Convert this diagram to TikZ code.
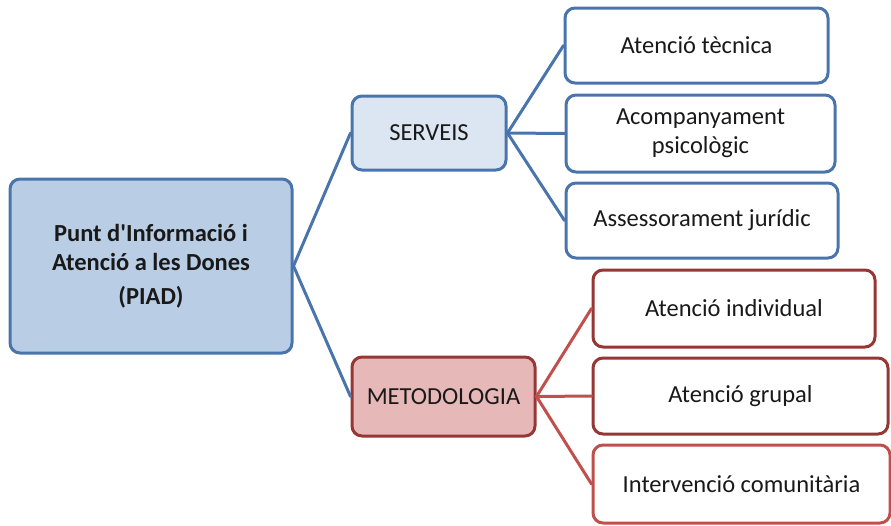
\documentclass[tikz,border=0pt]{standalone}
\usepackage{fontspec}
\setmainfont{Carlito}[Ligatures=TeXOff]
\definecolor{blueline}{RGB}{74,117,172}
\definecolor{bluefill}{RGB}{185,205,229}
\definecolor{paleblue}{RGB}{220,230,242}
\definecolor{darkred}{RGB}{150,55,53}
\definecolor{redline}{RGB}{192,80,77}
\definecolor{redfill}{RGB}{230,185,184}
\tikzset{
	box/.style={draw, line width=3pt, rounded corners=10pt, align=center, text=black!90,
		font=\fontsize{24.5}{29}\selectfont, inner sep=0pt},
	bluebox/.style={box, draw=blueline, fill=white},
	redbox/.style={box, draw=darkred, fill=white},
	link/.style={line width=3pt, line cap=round}
}

\begin{document}
\begin{tikzpicture}[x=1pt, y=-1pt]
	\useasboundingbox (0,0) rectangle (891,525);

	\node [box, draw=blueline, fill=bluefill, minimum width=282pt, minimum height=174pt,
		font=\fontsize{24.5}{29}\selectfont\bfseries] (PIAD) at (151,266)
		{Punt d'Informació i\\Atenció a les Dones\\[5pt](PIAD)};

	\node [bluebox, fill=paleblue, minimum width=154pt, minimum height=74pt] (S) at (429,133) {SERVEIS};
	\node [redbox, fill=redfill, minimum width=183pt, minimum height=79pt] (M) at (443.5,396.5) {METODOLOGIA};

	\node [bluebox, minimum width=263pt, minimum height=75pt] (S1) at (696.5,45.5) {Atenció tècnica};
	\node [bluebox, minimum width=269pt, minimum height=77pt] (S2) at (700.5,133.5) {Acompanyament\\psicològic};
	\node [bluebox, minimum width=272pt, minimum height=75pt] (S3) at (702,220.5) {Assessorament jurídic};

	\node [redbox, minimum width=282pt, minimum height=77pt] (M1) at (734,308.5) {Atenció individual};
	\node [redbox, minimum width=295pt, minimum height=76pt] (M2) at (740.5,396) {Atenció grupal};
	\node [redbox, draw=redline, minimum width=297pt, minimum height=78pt] (M3) at (741.5,484) {Intervenció comunitària};

	\draw [link, blueline] (PIAD.east) to (S.west);
	\draw [link, blueline] (PIAD.east) to (M.west);
	\foreach \k in {1,2,3}
		\draw [link, blueline] (S.east) to (S\k.west);
	\foreach \k in {1,2,3}
		\draw [link, redline] (M.east) to (M\k.west);
\end{tikzpicture}
\end{document}
